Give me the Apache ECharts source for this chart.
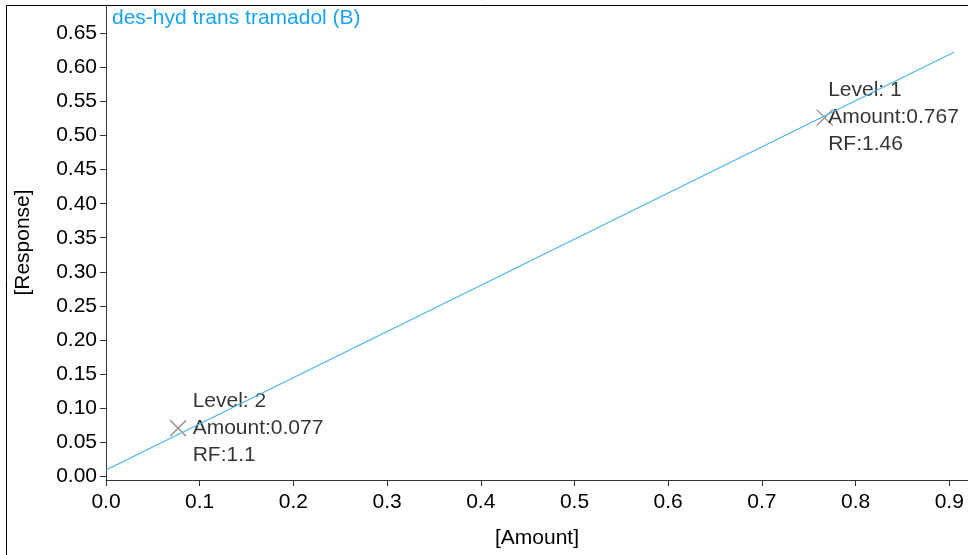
<!DOCTYPE html>
<html>
<head>
<meta charset="utf-8">
<script src="https://cdn.jsdelivr.net/npm/echarts@6/dist/echarts.min.js"></script>
<style>
  html, body { margin: 0; padding: 0; background: #fff; }
  #chart { width: 968px; height: 555px; }
</style>
</head>
<body>
<div id="chart"></div>
<script>
// calibration levels
const levels = [1, 2]
const amounts = [0.767, 0.077]
const responses = [0.5265, 0.0701]
const rfs = [1.46, 1.1]

// fitted line end points
const fitX = [0, 0.905]
const fitY = [0.0088, 0.6225]

const yTicks = [0, 0.05, 0.1, 0.15, 0.2, 0.25, 0.3, 0.35, 0.4, 0.45, 0.5, 0.55, 0.6, 0.65]
const xTicks = [0, 0.1, 0.2, 0.3, 0.4, 0.5, 0.6, 0.7, 0.8, 0.9]

const font = 'Liberation Sans, Arial, sans-serif'
const fs = 21
const axisCol = '#333'
// label nudges per level, the labels don't sit at the same spot next to each marker
const labelShift = { 1: [-11, 0], 2: [0, 0] }

const chart = echarts.init(document.getElementById('chart'))

const points = levels.map((lv, i) => ({
  value: [amounts[i], responses[i]],
  level: lv,
  amount: amounts[i],
  rf: rfs[i],
  label: { offset: labelShift[lv] },
}))

chart.setOption({
  animation: false,
  graphic: [
    {
      type: 'polyline',
      shape: { points: [[6.5, 555], [6.5, 5.5], [968, 5.5]] },
      style: { stroke: '#000', lineWidth: 1, fill: null },
    },
    {
      type: 'text',
      left: 112, top: 8,
      style: { text: 'des-hyd trans tramadol (B)', fill: '#1aa3f5', font: fs + 'px ' + font },
    },
  ],
  grid: { left: 106, top: 5, right: 0, bottom: 75, containLabel: false },
  xAxis: {
    type: 'value',
    min: 0,
    max: 0.92,
    name: '[Amount]',
    nameLocation: 'middle',
    nameGap: 48,
    nameTextStyle: { color: '#000', fontSize: fs, fontFamily: font },
    splitLine: { show: false },
    axisLine: { onZero: false, lineStyle: { color: axisCol } },
    axisTick: { customValues: xTicks, length: 6, lineStyle: { color: axisCol } },
    axisLabel: {
      customValues: xTicks,
      formatter: v => v.toFixed(1),
      color: '#000', fontSize: fs, fontFamily: font, margin: 12,
    },
  },
  yAxis: {
    type: 'value',
    min: -0.006,
    max: 0.692,
    name: '[Response]',
    nameLocation: 'middle',
    nameGap: 72,
    nameTextStyle: { color: '#000', fontSize: fs, fontFamily: font },
    splitLine: { show: false },
    axisLine: { show: true, onZero: false, lineStyle: { color: axisCol } },
    axisTick: { show: true, customValues: yTicks, length: 6, lineStyle: { color: axisCol } },
    axisLabel: {
      customValues: yTicks,
      formatter: v => v.toFixed(2),
      color: '#000', fontSize: fs, fontFamily: font, margin: 9,
    },
  },
  series: [
    {
      type: 'line',
      data: fitX.map((x, i) => [x, fitY[i]]),
      showSymbol: false,
      lineStyle: { color: '#49b4f5', width: 1.2 },
      silent: true,
    },
    {
      type: 'scatter',
      data: points,
      symbol: 'path://M0,0L10,10M10,0L0,10',
      symbolSize: 16,
      itemStyle: { color: 'none', borderColor: '#6e6e6e', borderWidth: 1.3 },
      label: {
        show: true,
        position: 'right',
        distance: 4,
        align: 'left',
        color: '#000',
        fontSize: fs,
        fontFamily: font,
        lineHeight: 27,
        formatter: p => 'Level: ' + p.data.level + '\nAmount:' + p.data.amount + '\nRF:' + p.data.rf,
      },
    },
  ],
})
</script>
</body>
</html>
